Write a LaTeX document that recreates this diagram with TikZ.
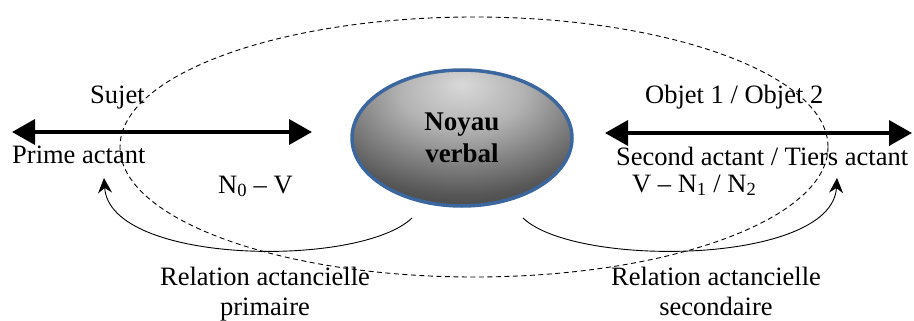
\documentclass[tikz,border=0pt]{standalone}
\usepackage{fontspec}
\setmainfont{Liberation Serif}
\usetikzlibrary{positioning, shapes, arrows.meta}
\definecolor{noyaublue}{HTML}{3C679E}
\pgfdeclareradialshading{noyaushade}{\pgfpoint{0bp}{20bp}}{color(0bp)=(black!15); color(14bp)=(black!30); color(34bp)=(black!66); color(54bp)=(black!88); color(100bp)=(black!90)}

\begin{document}
\begin{tikzpicture}[x=1pt, y=-1pt, font=\fontsize{26.5}{30}\selectfont,
  lbl/.style={inner sep=0pt, align=center},
  bigarrow/.style={line width=3.6pt, {Triangle[length=23pt,width=25pt]}-{Triangle[length=23pt,width=25pt]}},
  relarrow/.style={line width=0.9pt, -{Stealth[length=15pt,width=14pt,inset=5pt]}}]

% Fix the size of the picture
\useasboundingbox (0,0) rectangle (914,321);

% Dashed ellipse
\draw[line width=0.9pt, dash pattern=on 5pt off 3.5pt] (474,147) ellipse [x radius=354, y radius=130];

% Verbal core
\node[ellipse, draw=noyaublue, line width=3.5pt, shade, shading=noyaushade,
      minimum width=220, minimum height=136, inner sep=0pt, align=center,
      font=\fontsize{27}{32}\selectfont\bfseries] (noyau) at (462,138) {Noyau\\verbal};

% Actants
\coordinate (sujetL) at (12,132);
\coordinate (sujetR) at (312,132);
\draw[bigarrow] (sujetL) -- (sujetR);
\node[lbl, anchor=base west] (sujet) at (90,103) {Sujet};
\node[lbl, anchor=base west] (prime) at (12,164) {Prime actant};
\node[lbl, anchor=base west] (nzero) at (218,193) {N\textsubscript{0} – V};

\coordinate (objetL) at (605,133);
\coordinate (objetR) at (912,133);
\draw[bigarrow] (objetL) -- (objetR);
\node[lbl, anchor=base west] (objet) at (645,103) {Objet 1 / Objet 2};
\node[lbl, anchor=base west] (second) at (616,165) {Second actant / Tiers actant};
\node[lbl, anchor=base west] (vnun) at (632,192) {V – N\textsubscript{1} / N\textsubscript{2}};

% Relations
\coordinate (relL) at (412,218);
\coordinate (tipL) at (104,178);
\draw[relarrow] (relL) .. controls (360,268) and (110,265) .. (tipL);
\node[lbl, anchor=north] (primaire) at (265,267) {Relation actancielle\\primaire};

\coordinate (relR) at (523,218);
\coordinate (tipR) at (837,178);
\draw[relarrow] (relR) .. controls (575,268) and (832,265) .. (tipR);
\node[lbl, anchor=north] (secondaire) at (716,267) {Relation actancielle\\secondaire};

\end{tikzpicture}
\end{document}
